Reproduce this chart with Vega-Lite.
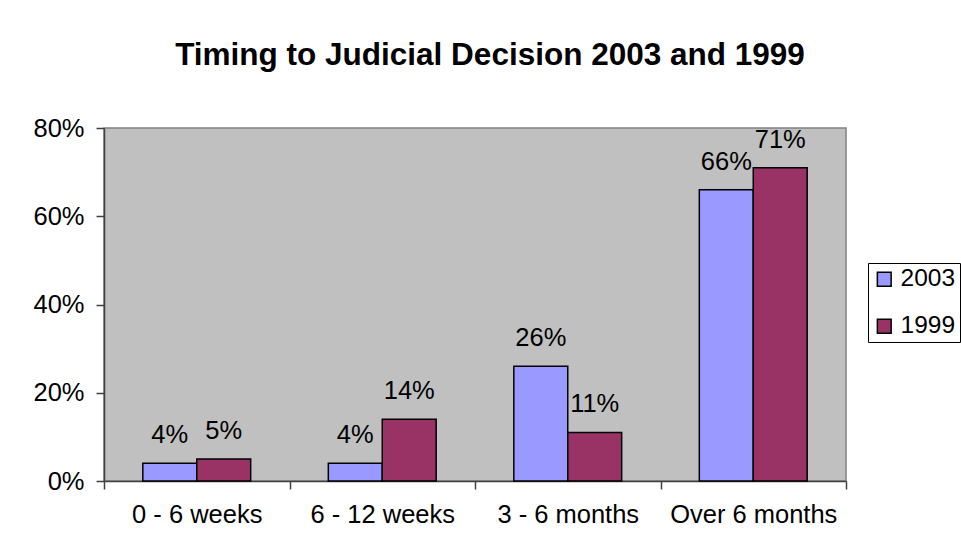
{
  "$schema": "https://vega.github.io/schema/vega-lite/v6.json",
  "autosize": "none",
  "width": 742,
  "height": 353,
  "padding": {"left": 104, "top": 128, "right": 115, "bottom": 79},
  "background": "white",
  "title": {
    "text": "Timing to Judicial Decision 2003 and 1999",
    "font": "Liberation Sans",
    "fontSize": 31.5,
    "fontWeight": "bold",
    "color": "black",
    "anchor": "middle",
    "dx": 15,
    "offset": 45
  },
  "data": {
    "values": [
      {"period": "0 - 6 weeks", "year": "2003", "value": 0.04},
      {"period": "0 - 6 weeks", "year": "1999", "value": 0.05},
      {"period": "6 - 12 weeks", "year": "2003", "value": 0.04},
      {"period": "6 - 12 weeks", "year": "1999", "value": 0.14},
      {"period": "3 - 6 months", "year": "2003", "value": 0.26},
      {"period": "3 - 6 months", "year": "1999", "value": 0.11},
      {"period": "Over 6 months", "year": "2003", "value": 0.66},
      {"period": "Over 6 months", "year": "1999", "value": 0.71}
    ]
  },
  "encoding": {
    "x": {
      "field": "period",
      "type": "nominal",
      "sort": null,
      "title": null,
      "scale": {"paddingInner": 0, "paddingOuter": 0},
      "axis": {
        "labelAngle": 0,
        "labelFont": "Liberation Sans",
        "labelFontSize": 25.5,
        "labelColor": "black",
        "labelPadding": 13,
        "tickBand": "extent",
        "tickSize": 8,
        "tickColor": "#404040",
        "domainColor": "#404040",
        "tickWidth": 1.5,
        "domainWidth": 1.5
      }
    },
    "xOffset": {
      "field": "year",
      "type": "nominal",
      "sort": ["2003", "1999"],
      "scale": {"paddingInner": 0, "paddingOuter": 0.72}
    },
    "y": {
      "field": "value",
      "type": "quantitative",
      "title": null,
      "scale": {"domain": [0, 0.8]},
      "axis": {
        "values": [0, 0.2, 0.4, 0.6, 0.8],
        "format": ".0%",
        "grid": false,
        "labelFont": "Liberation Sans",
        "labelFontSize": 25.5,
        "labelColor": "black",
        "labelPadding": 12,
        "tickSize": 8,
        "tickColor": "#404040",
        "domainColor": "#404040",
        "tickWidth": 1.5,
        "domainWidth": 1.5
      }
    }
  },
  "layer": [
    {
      "mark": {"type": "bar", "stroke": "black", "strokeWidth": 1.5},
      "encoding": {
        "color": {
          "field": "year",
          "type": "nominal",
          "sort": ["2003", "1999"],
          "scale": {"domain": ["2003", "1999"], "range": ["#9999FF", "#993366"]},
          "legend": {
            "title": null,
            "orient": "none",
            "legendX": 764,
            "legendY": 135,
            "symbolType": "square",
            "symbolSize": 190,
            "symbolStrokeColor": "black",
            "symbolStrokeWidth": 1.5,
            "labelFont": "Liberation Sans",
            "labelFontSize": 24.5,
            "labelColor": "black",
            "labelOffset": 4,
            "rowPadding": 22,
            "padding": 4,
            "strokeColor": "black",
            "fillColor": "white"
          }
        }
      }
    },
    {
      "mark": {
        "type": "text",
        "font": "Liberation Sans",
        "fontSize": 25.5,
        "color": "black",
        "baseline": "alphabetic",
        "dy": -20
      },
      "encoding": {
        "text": {"field": "value", "type": "quantitative", "format": ".0%"}
      }
    }
  ],
  "config": {
    "view": {"fill": "#C0C0C0", "stroke": "#808080", "strokeWidth": 1.5}
  }
}
